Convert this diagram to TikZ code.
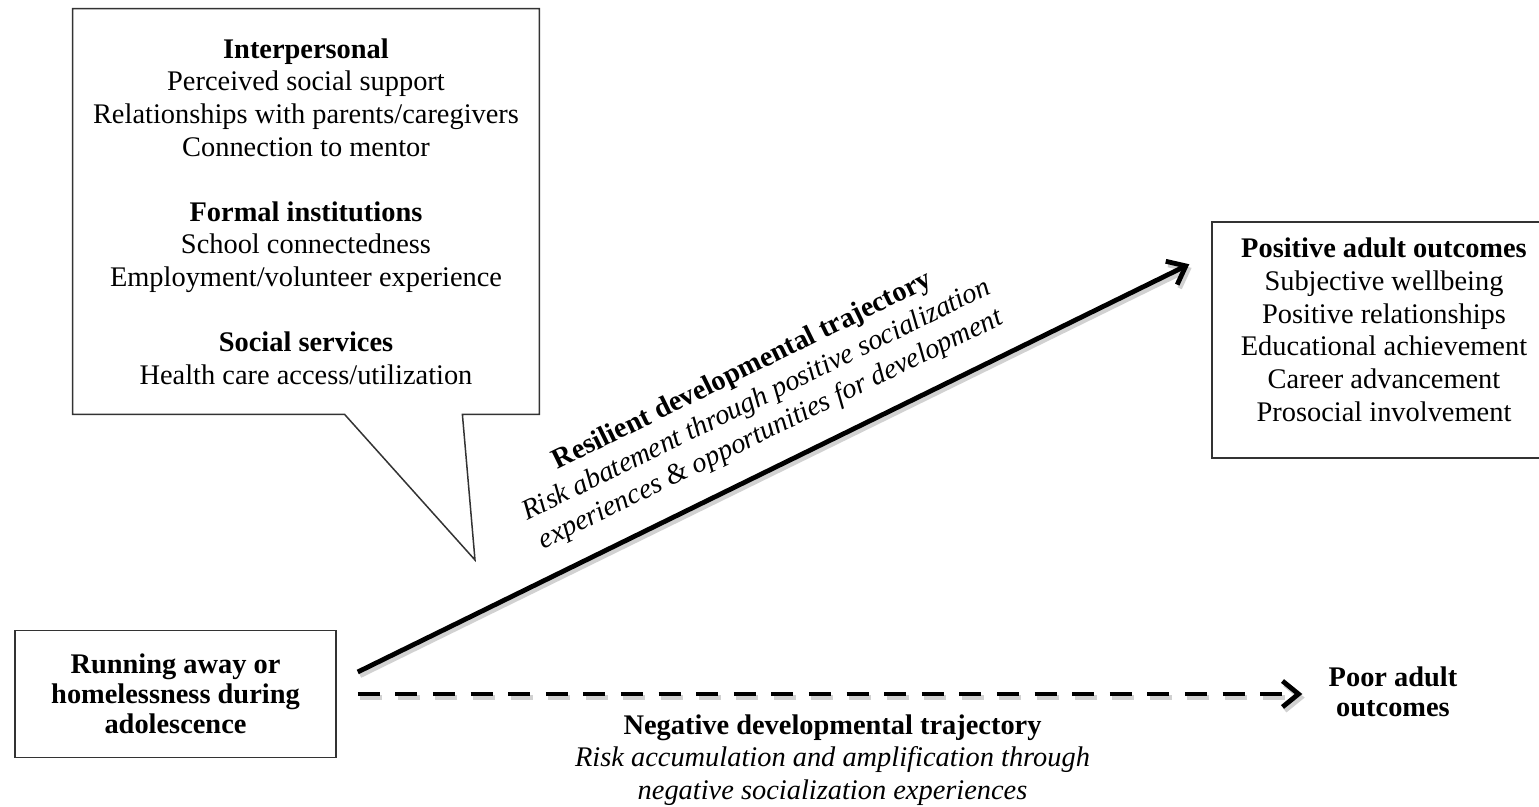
\documentclass[tikz,border=0pt]{standalone}
\usepackage{fontspec}
\setmainfont{Liberation Serif}
\usetikzlibrary{arrows.meta}

\tikzset{
    frame/.style  = {draw=black!80, line width=0.75pt},
    txt/.style    = {align=center, inner sep=0pt, font=\fontsize{14.2pt}{16.3pt}\selectfont},
    txtbf/.style  = {txt, font=\bfseries\fontsize{14.2pt}{15pt}\selectfont},
    trunk/.style  = {line width=2.4pt, -{Straight Barb[length=8pt, width=13pt]}},
    broken/.style = {trunk, dash pattern=on 11pt off 7.8pt},
    haze/.style   = {draw=black!18, transform canvas={xshift=1.2pt, yshift=-1.8pt}},
}

\begin{document}
\begin{tikzpicture}[x=0.5pt, y=-0.5pt]
    \useasboundingbox (0,0) rectangle (1539,807);
    \clip (0,0) rectangle (1539,807);

    \node[txt, minimum width=233pt, minimum height=202.5pt] (support) at (306,211.5)
        {\textbf{Interpersonal}\\Perceived social support\\Relationships with parents/caregivers\\Connection to mentor\\[16.3pt]
         \textbf{Formal institutions}\\School connectedness\\Employment/volunteer experience\\[16.3pt]
         \textbf{Social services}\\Health care access/utilization};
    \coordinate (beak) at (475,560);
    \draw[frame] (support.north west) -- (support.north east) -- (support.south east)
        -- ([shift={(-77,0)}]support.south east) -- (beak)
        -- ([shift={(272,0)}]support.south west) -- (support.south west) -- cycle;

    \node[txtbf, frame, minimum width=160.5pt, minimum height=63.5pt] (runaway) at (175.5,694)
        {Running away or\\homelessness during\\adolescence};
    \node[txt, frame, minimum width=172pt, minimum height=118pt, font=\fontsize{14.2pt}{16.4pt}\selectfont] (thrive) at (1384,340)
        {\textbf{Positive adult outcomes}\\Subjective wellbeing\\Positive relationships\\Educational achievement\\Career advancement\\Prosocial involvement\\[-6pt]\mbox{}};
    \node[txtbf] (poor) at (1393,692) {Poor adult\\outcomes};

    \draw[trunk, haze] ([shift={(21,-22)}]runaway.east) -- ([shift={(-22,43)}]thrive.north west);
    \draw[trunk] ([shift={(21,-22)}]runaway.east) -- ([shift={(-22,43)}]thrive.north west)
        node[txt, pos=0.516, sloped, above=10pt]
        {\textbf{Resilient developmental trajectory}\\\textit{Risk abatement through positive socialization}\\\textit{experiences \& opportunities for development}};

    \draw[broken, haze, shorten <=10.5pt, shorten >=13pt] (runaway.east) -- (poor.west |- runaway.east);
    \draw[broken, shorten <=10.5pt, shorten >=13pt] (runaway.east) -- (poor.west |- runaway.east)
        node[txt, midway, below=9pt]
        {\textbf{Negative developmental trajectory}\\\textit{Risk accumulation and amplification through}\\\textit{negative socialization experiences}};
\end{tikzpicture}
\end{document}
